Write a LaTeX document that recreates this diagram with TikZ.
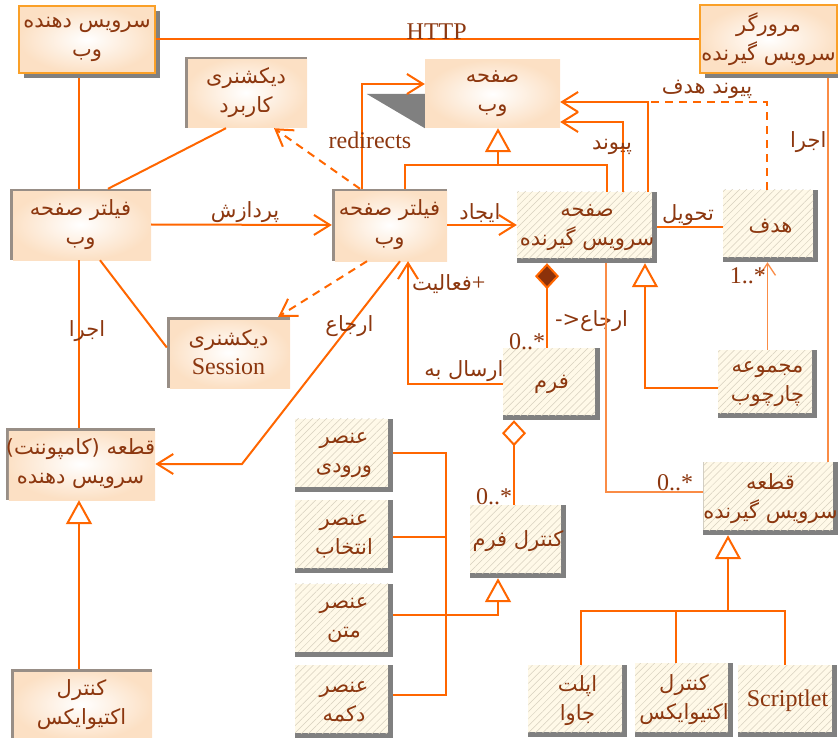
\documentclass[tikz,border=0pt]{standalone}
\usepackage{fontspec}
\setmainfont{Liberation Serif}
\newfontfamily\arabicfont[Script=Arabic]{DejaVu Sans}
\TeXXeTstate=1
\usetikzlibrary{arrows.meta,shadows,patterns.meta}

\definecolor{lineorange}{RGB}{255,102,0}
\definecolor{lightorange}{RGB}{250,140,70}
\definecolor{textbrown}{RGB}{140,55,15}
\definecolor{peach}{RGB}{252,224,196}
\definecolor{hatchbg}{RGB}{255,249,232}
\definecolor{hatchline}{RGB}{215,208,190}
\definecolor{shadowgray}{RGB}{128,128,128}
\definecolor{tlshadow}{RGB}{152,142,134}
\definecolor{borderorange}{RGB}{250,160,40}
\definecolor{diamondfill}{RGB}{140,50,10}

\newcommand{\fatext}[1]{{\arabicfont\fontsize{21}{29}\selectfont\beginR #1\endR}}

\tikzset{
  conn/.style={draw=lineorange, line width=2pt},
  thinconn/.style={draw=lightorange, line width=1.3pt},
  depconn/.style={conn, dash pattern=on 8pt off 6pt},
  barb/.style={-{Straight Barb[length=16pt,width=20pt]}},
  gen/.style={-{Triangle[length=24pt,width=26pt,fill=white]}},
  lbl/.style={text=textbrown, inner sep=1pt, font=\fontsize{24}{29}\selectfont},
  boxtext/.style={text=textbrown, align=center, inner sep=0pt, font=\fontsize{24}{29}\selectfont},
  srvbox/.style={boxtext, draw=borderorange, line width=2pt, inner color=white, outer color=peach,
    drop shadow={shadow xshift=5pt, shadow yshift=-5pt, opacity=1, fill=shadowgray}},
  pagebox/.style={boxtext, inner color=white, outer color=peach},
  dictbox/.style={boxtext, fill=tlshadow, path picture={
    \shade[inner color=white, outer color=peach]
      ([shift={(3pt,-3pt)}]path picture bounding box.north west) rectangle (path picture bounding box.south east);}},
  clsbox/.style={boxtext, fill=shadowgray, minimum width=98pt, minimum height=73pt, path picture={
    \fill[hatchbg] (path picture bounding box.north west)
      rectangle ([shift={(-5pt,5pt)}]path picture bounding box.south east);
    \fill[pattern={Lines[angle=45,distance=5pt,line width=0.5pt]}, pattern color=hatchline]
      (path picture bounding box.north west)
      rectangle ([shift={(-5pt,5pt)}]path picture bounding box.south east);}},
}

\begin{document}
\begin{tikzpicture}[x=1pt,y=-1pt]
\useasboundingbox (0,0) rectangle (838,738);

% server side
\node[srvbox, minimum width=136pt, minimum height=67pt] (websrv) at (87,39.5) {\fatext{سرویس دهنده}\\\fatext{وب}};
\node[srvbox, minimum width=137pt, minimum height=68pt] (browser) at (768.5,39) {\fatext{مرورگر}\\\fatext{سرویس گیرنده}};
\node[dictbox, minimum width=122pt, minimum height=71pt] (appdict) at (246,92.5) {\fatext{دیکشنری}\\\fatext{کاربرد}};
\node[pagebox, minimum width=135pt, minimum height=68pt] (webpage) at (492.5,94) {\fatext{صفحه}\\\fatext{وب}};
\fill[shadowgray] ([xshift=-58pt]webpage.west) -- (webpage.west) -- (webpage.south west) -- cycle;
\node[dictbox, minimum width=141pt, minimum height=71pt] (filter1) at (80.5,224.5) {\fatext{فیلتر صفحه}\\\fatext{وب}};
\node[dictbox, minimum width=115pt, minimum height=72pt] (filter2) at (389.5,225) {\fatext{فیلتر صفحه}\\\fatext{وب}};
\node[dictbox, minimum width=123pt, minimum height=71pt] (sessdict) at (228.5,352.5) {\fatext{دیکشنری}\\Session};
\node[dictbox, minimum width=141pt, minimum height=72pt] (srvcomp) at (80.5,464) {\fatext{قطعه (کامپوننت)}\\\fatext{سرویس دهنده}};
\node[dictbox, minimum width=141pt, minimum height=71pt] (activex1) at (81.5,704.5) {\fatext{کنترل}\\\fatext{اکتیوایکس}};

% client side
\node[clsbox, minimum width=140pt, minimum height=71pt] (clipage) at (587,227.5) {\fatext{صفحه}\\\fatext{سرویس گیرنده}};
\node[clsbox, minimum width=95pt, minimum height=72pt] (target) at (770.5,226) {\fatext{هدف}};
\node[clsbox, minimum width=97pt, minimum height=72pt] (form) at (551.5,384) {\fatext{فرم}};
\node[clsbox, minimum width=99pt, minimum height=68pt] (frameset) at (767.5,384) {\fatext{مجموعه}\\\fatext{چارچوب}};
\node[clsbox, minimum width=131pt, minimum height=73pt] (clicomp) at (770.5,498.5) {\fatext{قطعه}\\\fatext{سرویس گیرنده}};
\node[clsbox, minimum width=96pt] (formctl) at (518,541.5) {\fatext{کنترل فرم}};
\node[clsbox] (input) at (344,455) {\fatext{عنصر}\\\fatext{ورودی}};
\node[clsbox] (select) at (344,536.5) {\fatext{عنصر}\\\fatext{انتخاب}};
\node[clsbox] (text) at (344,620) {\fatext{عنصر}\\\fatext{متن}};
\node[clsbox] (button) at (344,701.5) {\fatext{عنصر}\\\fatext{دکمه}};
\node[clsbox, minimum width=99pt, minimum height=72pt] (applet) at (577.5,701) {\fatext{اپلت}\\\fatext{جاوا}};
\node[clsbox, minimum height=74pt] (activex2) at (684,700) {\fatext{کنترل}\\\fatext{اکتیوایکس}};
\node[clsbox, minimum width=99pt, minimum height=72pt] (scriptlet) at (787.5,701) {Scriptlet};

\coordinate (leftbus) at (79,78);
\coordinate (rightbus) at (828,78);
\coordinate (wpbus) at (498,165);
\coordinate (hdfjoin) at (648,102);
\coordinate (bendx) at (242,0);
\coordinate (elbus) at (446,0);
\coordinate (ccbus) at (728,611);
\coordinate (compx) at ([xshift=-4.5pt]form.north);
\coordinate (aggx) at ([xshift=-4pt]formctl.north);
\coordinate (hdftgt) at ([xshift=-3.5pt]target.north);

% associations
\draw[conn] (websrv.east) -- node[lbl, anchor=base, pos=0.517] {HTTP} (browser.west |- websrv.east);
\draw[conn] (leftbus) -- (leftbus |- filter1.north);
\draw[conn] (filter1.south -| leftbus) -- node[lbl, pos=0.42, xshift=8pt] {\fatext{اجرا}} (srvcomp.north -| leftbus);
\draw[conn, gen] (activex1.north -| leftbus) -- (srvcomp.south -| leftbus);
\draw[conn] ([xshift=27.5pt]filter1.north) -- ([xshift=-20pt]appdict.south);
\draw[conn] ([xshift=19.5pt]filter1.south) -- ([yshift=5pt]sessdict.west);
\draw[conn, barb] (filter1.east) -- node[lbl, above, pos=0.52] {\fatext{پردازش}} (filter2.west);
\draw[depconn, barb] ([xshift=-29.5pt]filter2.north) -- ([xshift=28pt]appdict.south);
\draw[depconn, barb] ([xshift=-22.5pt]filter2.south) -- ([xshift=-12pt]sessdict.north east);
\draw[conn, barb] ([xshift=10.5pt]filter2.south) -- node[lbl, pos=0.32] {\fatext{ارجاع}} (srvcomp.east -| bendx) -- (srvcomp.east);
\draw[conn, barb] ([xshift=-27.5pt]filter2.north) |- node[lbl, pos=0.233, xshift=8pt] {redirects} ([yshift=10pt]webpage.west);
\draw[conn] ([xshift=15.5pt]filter2.north) |- (wpbus) -| ([xshift=20pt]clipage.north);
\draw[conn, gen] (wpbus) -- (wpbus |- webpage.south);
\draw[conn, barb] ([xshift=36pt]clipage.north) |- node[lbl, pos=0.32, xshift=-11pt] {\fatext{پیوند}} ([yshift=-28pt]webpage.east);
\draw[conn, barb] ([xshift=61pt]clipage.north) -- (hdfjoin) -- (hdfjoin -| webpage.east);
\draw[depconn] (hdftgt) |- node[lbl, above=1pt, pos=0.752] {\fatext{پیوند هدف}} (hdfjoin);
\draw[conn, barb] (filter2.east) -- node[lbl, above, pos=0.47] {\fatext{ایجاد}} (filter2.east -| clipage.west);
\draw[conn] (clipage.east) -- node[lbl, above, pos=0.47] {\fatext{تحویل}} (clipage.east -| target.west);
\draw[thinconn, -{Straight Barb[length=12pt,width=16pt]}] (frameset.north) -- node[lbl, left, pos=0.85] {1..*} (frameset.north |- target.south);
\draw[conn, gen] ([yshift=-4pt]frameset.west) -| ([xshift=58pt]clipage.south);
\draw[conn, {Diamond[length=26pt,width=24pt,fill=diamondfill]}-] (clipage.south -| compx) -- node[lbl, left, pos=0.93] {0..*} node[lbl, right=6pt, pos=0.69] {{\arabicfont\fontsize{21}{29}\selectfont <-}\fatext{ارجاع}} (compx);
\draw[thinconn] ([xshift=19pt]clipage.south) |- node[lbl, above, pos=0.856] {0..*} ([yshift=6.5pt]clicomp.west);
\draw[thinconn] (rightbus) -- node[lbl, left, pos=0.167] {\fatext{اجرا}} (rightbus |- clicomp.north);
\draw[conn, barb] (form.west) -| node[lbl, above, pos=0.205] {\fatext{ارسال به}} node[lbl, right=2pt, pos=0.907] {\fatext{فعالیت}+} ([xshift=18.5pt]filter2.south);
\draw[conn, {Diamond[length=26pt,width=24pt,fill=white]}-] (form.south -| aggx) -- node[lbl, left, pos=0.906] {0..*} (aggx);

% form elements
\draw[conn] ([yshift=2pt]input.east) -- ([yshift=2pt]input.east -| elbus) -- ([yshift=7pt]button.east -| elbus) -- ([yshift=7pt]button.east);
\draw[conn] (select.east) -- (select.east -| elbus);
\draw[conn, gen] ([yshift=5pt]text.east) -| ([xshift=-20pt]formctl.south);

% client components
\draw[conn] ([xshift=3.5pt]applet.north) |- (ccbus) -| ([xshift=-2.5pt]scriptlet.north);
\draw[conn] ([xshift=-8pt]activex2.north) -- ([xshift=-8pt]activex2.north |- ccbus);
\draw[conn, gen] (ccbus) -- (ccbus |- clicomp.south);
\end{tikzpicture}
\end{document}
